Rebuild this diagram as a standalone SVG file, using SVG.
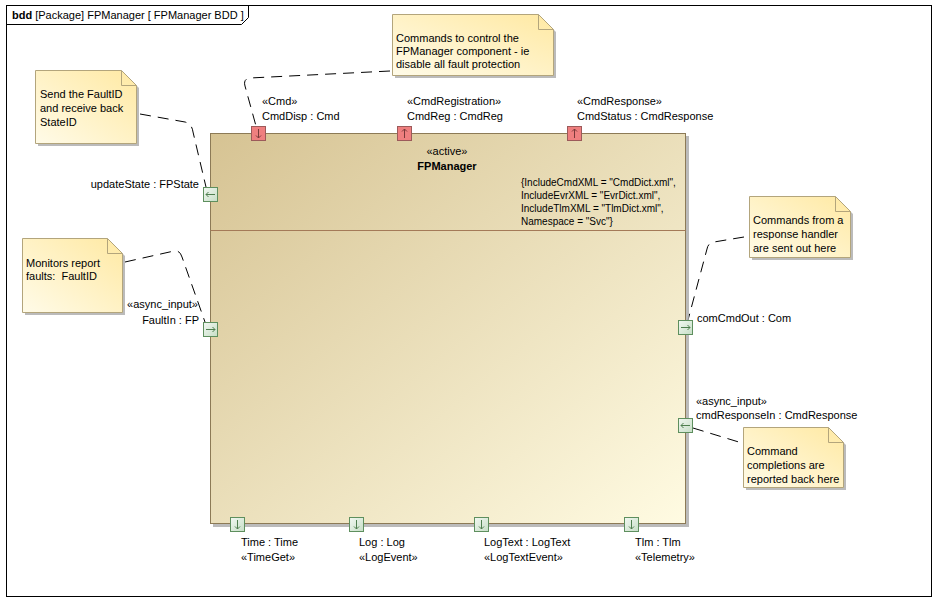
<svg xmlns="http://www.w3.org/2000/svg" width="947" height="611" viewBox="0 0 947 611">
<style>
text{font-family:"Liberation Sans",Arial,sans-serif;font-size:11px;fill:#000}
.tv{font-size:10px}
.b{font-weight:bold}
.note{fill:url(#ng);stroke:#b3a57c;stroke-width:1}
.shadow{fill:#aaa;opacity:0.8}
.rp{fill:#ef7f7f;stroke:#9c5a5a;stroke-width:1}
.gp{fill:url(#gg);stroke:#5e8f5e;stroke-width:1}
.pa{stroke:#4f7f4f;stroke-width:1;fill:none}
.ra{stroke:#7a3a3a;stroke-width:1;fill:none}
.con{fill:none;stroke:#000;stroke-width:1;stroke-dasharray:11,7}
</style>
<defs>
<linearGradient id="bg" x1="0" y1="0" x2="1" y2="1">
<stop offset="0" stop-color="#d6c393"/>
<stop offset="1" stop-color="#fffbe2"/>
</linearGradient>
<linearGradient id="ng" x1="1" y1="0" x2="0" y2="1">
<stop offset="0" stop-color="#ffe9a3"/>
<stop offset="1" stop-color="#fffbe8"/>
</linearGradient>
<linearGradient id="gg" x1="0" y1="0" x2="1" y2="1">
<stop offset="0" stop-color="#f2f8f2"/>
<stop offset="1" stop-color="#c6dec6"/>
</linearGradient>
</defs>
<rect x="0" y="0" width="947" height="611" fill="#fff"/>
<g id="frame">
<rect x="6.5" y="5.5" width="925" height="591" fill="none" stroke="#000"/>
<path d="M6.5 24.5 H241.5 L248.5 17.5 V5.5" fill="none" stroke="#000"/>
<text x="12" y="19"><tspan class="b">bdd</tspan> [Package] FPManager [ FPManager BDD ]</text>
</g>
<g id="connectors">
<path class="con" d="M140 114 L185 122 Q192 124 193 132 L206 187"/>
<path class="con" d="M390 71 L250 78 Q243 79 245 86 L256 126"/>
<path class="con" d="M125 262 L174 251 Q180 250 182 257 L205 322"/>
<path class="con" d="M744 237 L714 242 Q708 243 707 249 L688 320"/>
<path class="con" d="M693 428 L742 443"/>
</g>
<g id="FPManager">
<rect x="213" y="136" width="476" height="391" class="shadow"/>
<rect x="210.5" y="133.5" width="475" height="390" fill="url(#bg)" stroke="#8c7a56"/>
<line x1="210.5" y1="230.5" x2="685.5" y2="230.5" stroke="#a47a58"/>
<text x="447" y="155" text-anchor="middle">«active»</text>
<text x="447" y="170" text-anchor="middle" class="b">FPManager</text>
<text class="tv" x="521" y="186">{IncludeCmdXML = "CmdDict.xml",</text>
<text class="tv" x="521" y="199">IncludeEvrXML = "EvrDict.xml",</text>
<text class="tv" x="521" y="212">IncludeTlmXML = "TlmDict.xml",</text>
<text class="tv" x="521" y="225">Namespace = "Svc"}</text>
</g>
<g id="port-CmdDisp">
<rect x="251.5" y="126.5" width="14" height="14" class="rp"/>
<path class="ra" d="M258.5 129 V138 M256 135.5 L258.5 138 L261 135.5"/>
<text x="262" y="105">«Cmd»</text>
<text x="262" y="120">CmdDisp : Cmd</text>
</g>
<g id="port-CmdReg">
<rect x="397.5" y="126.5" width="14" height="14" class="rp"/>
<path class="ra" d="M404.5 129 V138 M402 131.5 L404.5 129 L407 131.5"/>
<text x="407" y="105">«CmdRegistration»</text>
<text x="407" y="120">CmdReg : CmdReg</text>
</g>
<g id="port-CmdStatus">
<rect x="567.5" y="126.5" width="14" height="14" class="rp"/>
<path class="ra" d="M574.5 129 V138 M572 131.5 L574.5 129 L577 131.5"/>
<text x="577" y="105">«CmdResponse»</text>
<text x="577" y="120">CmdStatus : CmdResponse</text>
</g>
<g id="port-updateState">
<rect x="203.5" y="187.5" width="14" height="14" class="gp"/>
<path class="pa" d="M215 194.5 H206 M208.5 192 L206 194.5 L208.5 197"/>
<text x="199" y="188" text-anchor="end">updateState : FPState</text>
</g>
<g id="port-FaultIn">
<rect x="203.5" y="322.5" width="14" height="14" class="gp"/>
<path class="pa" d="M206 329.5 H215 M212.5 327 L215 329.5 L212.5 332"/>
<text x="198" y="308" text-anchor="end">«async_input»</text>
<text x="199" y="324" text-anchor="end">FaultIn : FP</text>
</g>
<g id="port-comCmdOut">
<rect x="678.5" y="320.5" width="14" height="14" class="gp"/>
<path class="pa" d="M681 327.5 H690 M687.5 325 L690 327.5 L687.5 330"/>
<text x="697" y="322">comCmdOut : Com</text>
</g>
<g id="port-cmdResponseIn">
<rect x="678.5" y="418.5" width="14" height="14" class="gp"/>
<path class="pa" d="M690 425.5 H681 M683.5 423 L681 425.5 L683.5 428"/>
<text x="696" y="405">«async_input»</text>
<text x="696" y="419">cmdResponseIn : CmdResponse</text>
</g>
<g id="port-Time">
<rect x="230.5" y="517.5" width="14" height="14" class="gp"/>
<path class="pa" d="M237.5 520 V529 M235 526.5 L237.5 529 L240 526.5"/>
<text x="241" y="546">Time : Time</text>
<text x="241" y="561">«TimeGet»</text>
</g>
<g id="port-Log">
<rect x="349.5" y="517.5" width="14" height="14" class="gp"/>
<path class="pa" d="M356.5 520 V529 M354 526.5 L356.5 529 L359 526.5"/>
<text x="359" y="546">Log : Log</text>
<text x="359" y="561">«LogEvent»</text>
</g>
<g id="port-LogText">
<rect x="474.5" y="517.5" width="14" height="14" class="gp"/>
<path class="pa" d="M481.5 520 V529 M479 526.5 L481.5 529 L484 526.5"/>
<text x="484" y="546">LogText : LogText</text>
<text x="484" y="561">«LogTextEvent»</text>
</g>
<g id="port-Tlm">
<rect x="624.5" y="517.5" width="14" height="14" class="gp"/>
<path class="pa" d="M631.5 520 V529 M629 526.5 L631.5 529 L634 526.5"/>
<text x="635" y="546">Tlm : Tlm</text>
<text x="635" y="561">«Telemetry»</text>
</g>
<g id="note-updateState">
<path d="M38 73 H124 L139 88 V146 H38 Z" class="shadow"/>
<path d="M35.5 70.5 H121.5 L136.5 85.5 V143.5 H35.5 Z" class="note"/>
<path d="M121.5 70.5 V85.5 H136.5" fill="none" stroke="#b3a57c"/>
<text x="40" y="98">Send the FaultID</text>
<text x="40" y="112">and receive back</text>
<text x="40" y="126">StateID</text>
</g>
<g id="note-CmdDisp">
<path d="M395 17 H541 L556 32 V78 H395 Z" class="shadow"/>
<path d="M392.5 14.5 H538.5 L553.5 29.5 V75.5 H392.5 Z" class="note"/>
<path d="M538.5 14.5 V29.5 H553.5" fill="none" stroke="#b3a57c"/>
<text x="396" y="42">Commands to control the</text>
<text x="396" y="55">FPManager component - ie</text>
<text x="396" y="68">disable all fault protection</text>
</g>
<g id="note-FaultIn">
<path d="M25 241 H110 L125 256 V315 H25 Z" class="shadow"/>
<path d="M22.5 238.5 H107.5 L122.5 253.5 V312.5 H22.5 Z" class="note"/>
<path d="M107.5 238.5 V253.5 H122.5" fill="none" stroke="#b3a57c"/>
<text x="26" y="267">Monitors report</text>
<text x="26" y="280" xml:space="preserve">faults:  FaultID</text>
</g>
<g id="note-comCmdOut">
<path d="M752 199 H838 L853 214 V260 H752 Z" class="shadow"/>
<path d="M749.5 196.5 H835.5 L850.5 211.5 V257.5 H749.5 Z" class="note"/>
<path d="M835.5 196.5 V211.5 H850.5" fill="none" stroke="#b3a57c"/>
<text x="753" y="224">Commands from a</text>
<text x="753" y="238">response handler</text>
<text x="753" y="252">are sent out here</text>
</g>
<g id="note-cmdResponseIn">
<path d="M746 430 H831 L846 445 V490 H746 Z" class="shadow"/>
<path d="M743.5 427.5 H828.5 L843.5 442.5 V487.5 H743.5 Z" class="note"/>
<path d="M828.5 427.5 V442.5 H843.5" fill="none" stroke="#b3a57c"/>
<text x="747" y="455">Command</text>
<text x="747" y="469">completions are</text>
<text x="747" y="483">reported back here</text>
</g>
</svg>
